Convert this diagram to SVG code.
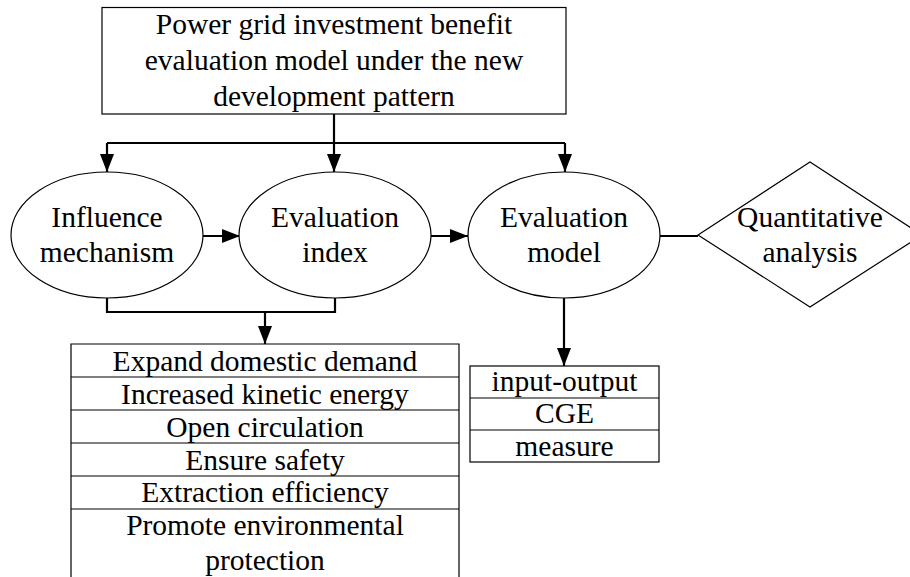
<svg xmlns="http://www.w3.org/2000/svg" width="910" height="577" viewBox="0 0 910 577">
  <style>
    .shape { fill: #fff; stroke: #000; stroke-width: 1.2; }
    .line { fill: none; stroke: #000; stroke-width: 2.2; }
  </style>
  <defs>
    <marker id="arrow" markerUnits="userSpaceOnUse" markerWidth="18" markerHeight="14" refX="18" refY="7" orient="auto">
      <path d="M0,0 L18,7 L0,14 Z" fill="#000"/>
    </marker>
  </defs>
  <rect width="910" height="577" fill="#fff"/>

  <!-- connectors -->
  <g id="connectors">
    <path class="line" d="M107,143 H565"/>
    <path class="line" d="M334,114 V172" marker-end="url(#arrow)"/>
    <path class="line" d="M107,143 V172" marker-end="url(#arrow)"/>
    <path class="line" d="M565,143 V172" marker-end="url(#arrow)"/>
    <path class="line" d="M203,236 H240" marker-end="url(#arrow)"/>
    <path class="line" d="M431,236 H468" marker-end="url(#arrow)"/>
    <path class="line" d="M660,236 H698"/>
    <path class="line" d="M107,298 V312 H335 V298"/>
    <path class="line" d="M265,312 V344" marker-end="url(#arrow)"/>
    <path class="line" d="M564,298 V366" marker-end="url(#arrow)"/>
  </g>

  <g font-family="Liberation Serif, serif" font-size="29.5" text-anchor="middle" fill="#000">
    <!-- root box -->
    <g id="root">
      <rect class="shape" x="102" y="7.5" width="464" height="106.5"/>
      <text x="334" y="34">Power grid investment benefit</text>
      <text x="334" y="70">evaluation model under the new</text>
      <text x="334" y="106">development pattern</text>
    </g>

    <g id="influence">
      <ellipse class="shape" cx="107" cy="235" rx="96" ry="63"/>
      <text x="107" y="227">Influence</text>
      <text x="107" y="262">mechanism</text>
    </g>

    <g id="index">
      <ellipse class="shape" cx="335" cy="235" rx="96" ry="63"/>
      <text x="335" y="227">Evaluation</text>
      <text x="335" y="262">index</text>
    </g>

    <g id="model">
      <ellipse class="shape" cx="564" cy="235" rx="96" ry="63"/>
      <text x="564" y="227">Evaluation</text>
      <text x="564" y="262">model</text>
    </g>

    <g id="quantitative">
      <polygon class="shape" points="698,235 810,162 922,235 810,307"/>
      <text x="810" y="227">Quantitative</text>
      <text x="810" y="262">analysis</text>
    </g>

    <!-- list of benefit dimensions -->
    <g id="dimensions">
      <path class="shape" d="M71,590 V344 H459 V590"/>
      <path class="shape" d="M71,377 H459 M71,410 H459 M71,443 H459 M71,476 H459 M71,509 H459"/>
      <text x="265" y="371">Expand domestic demand</text>
      <text x="265" y="404">Increased kinetic energy</text>
      <text x="265" y="437">Open circulation</text>
      <text x="265" y="470">Ensure safety</text>
      <text x="265" y="502">Extraction efficiency</text>
      <text x="265" y="535">Promote environmental</text>
      <text x="265" y="570">protection</text>
    </g>

    <!-- list of evaluation methods -->
    <g id="methods">
      <rect class="shape" x="470" y="366" width="189" height="96"/>
      <path class="shape" d="M470,398 H659 M470,430 H659"/>
      <text x="564.5" y="391">input-output</text>
      <text x="564.5" y="423">CGE</text>
      <text x="564.5" y="456">measure</text>
    </g>
  </g>
</svg>
